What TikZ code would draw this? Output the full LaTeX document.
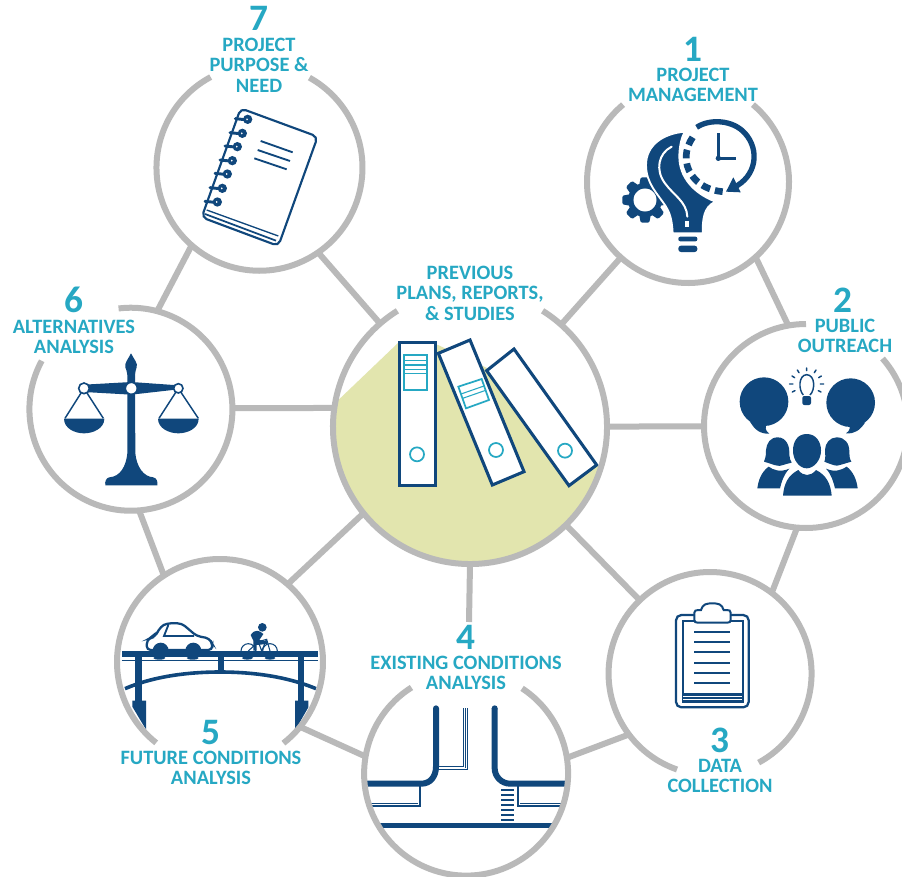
\documentclass[tikz,border=0pt]{standalone}
\usepackage{fontspec}
\setmainfont{Carlito}
\definecolor{navy}{HTML}{10477C}
\definecolor{teal1}{HTML}{26A8C3}
\definecolor{ringgray}{HTML}{B9B9B9}
\definecolor{olive}{HTML}{E2E5AE}
\tikzset{
  ringnode/.style={circle,inner sep=0pt,outer sep=0pt,minimum size={#1*1.5pt}},
  ringline/.style={draw=ringgray,line width=4.5pt},
  zoomat/.style={shift={#1},x=0.25pt,y=-0.25pt},
  digit/.style={text=teal1,font=\bfseries\fontsize{28}{28}\selectfont,inner sep=0pt},
  lab/.style={text=teal1,font=\bfseries\fontsize{15.3}{15.4}\selectfont,align=center,inner sep=0pt},
  binder/.style={draw=navy,fill=white,line width=2.3pt,line join=miter},
  tealthin/.style={draw=teal1,line width=1.3pt},
}
\newcommand{\ringarc}[4]{\draw[ringline] (#1.#3) arc[start angle=#3,end angle=#4,radius={#2*0.75pt}];}
\begin{document}
\begin{tikzpicture}[x=0.75pt,y=-0.75pt]
\useasboundingbox (0,0) rectangle (902,877);
\clip (0,0) rectangle (902,877);
\fill[white] (0,0) rectangle (902,877);
% ring anchors
\node[ringnode=137] (cc) at (470,427) {};
\node[ringnode=101] (c1) at (688,182) {};
\node[ringnode=102] (c2) at (806,426) {};
\node[ringnode=101.5] (c3) at (711,673) {};
\node[ringnode=102] (c4) at (465.5,774) {};
\node[ringnode=103] (c5) at (220,662) {};
\node[ringnode=101.5] (c6) at (130.5,410) {};
\node[ringnode=103] (c7) at (259,168) {};
\coordinate (free4) at (469,622);
% olive shade
\begin{scope}
\clip (470,427) circle[radius=135];
\fill[olive] (330,408) -- (398,343) -- (438,345) -- (487,368) -- (600,468) -- (620,600) -- (320,600) -- cycle;
\end{scope}
% connectors
\draw[ringline] (cc) -- (c1);
\draw[ringline] (cc) -- (c2);
\draw[ringline] (cc) -- (c3);
\draw[ringline] (cc.-90) -- (free4);
\draw[ringline] (cc.219.2) -- (c5.49);
\draw[ringline] (cc.172) -- (c6.1);
\draw[ringline] (cc.131.2) -- (c7.-55.4);
\draw[ringline] (c1.-48.5) -- (c2.100);
\draw[ringline] (c2.-95) -- (c3.53.7);
\draw[ringline] (c3.217.4) -- (c4.9.4);
\draw[ringline] (c4.170.6) -- (c5.-39);
\draw[ringline] (c5.123) -- (c6.-85);
\draw[ringline] (c6.75) -- (c7.229);
% binders
\begin{scope}[zoomat={(330,250)}]
\draw[binder] (470,362) -- (552,297) -- (800,645) -- (717,707) -- cycle;
\draw[binder] (325,310) -- (420,270) -- (582,665) -- (487,705) -- cycle;
\draw[binder] (208,278) rectangle (316,707);
\draw[tealthin] (222,315) rectangle (292,420);
\draw[tealthin,line width=.8pt] (225,332) -- (290,332) (225,345) -- (290,345) (225,358) -- (290,358) (225,371) -- (290,371);
\draw[tealthin] (261,613) circle[radius=21];
\draw[tealthin] (385,410) -- (455,387) -- (477,450) -- (408,475) -- cycle;
\draw[tealthin,line width=.8pt] (393,432) -- (462,408) (398,445) -- (467,421);
\draw[tealthin] (498,600) circle[radius=21];
\draw[tealthin] (705,602) circle[radius=21];
\end{scope}
% icon 1: bulb, gear, clock
\begin{scope}[zoomat={(570,20)}]
\foreach \a in {0,45,...,315}{
  \fill[navy,rotate around={\a:(225,540)},rounded corners=1pt] (212,472) -- (238,472) -- (244,505) -- (206,505) -- cycle;
}
\draw[navy,line width=4pt] (225,540) circle[radius=43];
\fill[navy,draw=white,line width=1.4pt] (345,335) .. controls (280,340) and (228,375) .. (228,435)
  .. controls (228,490) and (262,520) .. (288,560) .. controls (300,580) and (306,600) .. (308,640)
  -- (398,640) .. controls (398,600) and (400,560) .. (437,545)
  .. controls (370,520) and (328,470) .. (328,410) .. controls (328,380) and (335,350) .. (345,335) -- cycle;
\draw[white,line width=1.5pt,line cap=round] (305,380) .. controls (265,400) and (255,450) .. (285,490) .. controls (310,525) and (350,545) .. (352,590);
\fill[white] (346,602) rectangle (358,622);
\fill[navy,rounded corners=1.5pt] (325,650) rectangle (382,664);
\fill[navy,rounded corners=2pt] (325,677) rectangle (382,696);
\draw[navy,line width=4pt] (380,322) .. controls (420,295) and (490,300) .. (525,340)
  .. controls (570,390) and (560,470) .. (490,503);
\fill[navy] (512,517) -- (468,515) -- (490,472) -- cycle;
\draw[navy,line width=5pt,dash pattern=on 6.5pt off 3.8pt] (368,352) .. controls (345,385) and (340,430) .. (365,465) .. controls (385,495) and (420,512) .. (458,515);
\draw[navy,line width=1.8pt] (445,340) -- (445,415) -- (498,415);
\fill[navy] (445,415) circle[radius=8];
\end{scope}
% icon 2: speech and people
\begin{scope}[zoomat={(690,280)}]
\fill[navy] (222,365) circle[radius=73];
\fill[navy] (180,425) .. controls (195,450) and (210,462) .. (238,461) .. controls (225,452) and (224,440) .. (232,430) -- cycle;
\fill[navy] (482,368) circle[radius=73];
\fill[navy] (525,428) .. controls (510,450) and (495,462) .. (468,460) .. controls (480,452) and (482,442) .. (476,432) -- cycle;
\draw[navy,line width=1.1pt] (340,345) .. controls (325,330) and (325,285) .. (350,284) .. controls (376,285) and (376,330) .. (360,345);
\fill[navy,rounded corners=1.5pt] (337,348) rectangle (363,375);
\draw[navy,line width=1.1pt,line cap=round] (350,264) -- (350,272) (322,270) -- (327,278) (378,270) -- (373,278) (306,288) -- (314,293) (394,288) -- (386,293) (299,312) -- (309,312) (401,312) -- (391,312) (307,336) -- (315,332) (393,336) -- (385,332);
\fill[navy] (263,472) .. controls (290,472) and (300,500) .. (298,525) .. controls (298,535) and (302,542) .. (305,548)
  .. controls (285,552) and (270,560) .. (262,557) .. controls (250,555) and (240,550) .. (222,545)
  .. controls (228,530) and (228,520) .. (228,510) .. controls (230,490) and (240,472) .. (263,472) -- cycle;
\fill[navy] (440,472) .. controls (465,472) and (478,490) .. (478,515) .. controls (478,525) and (478,535) .. (484,545)
  .. controls (465,550) and (450,556) .. (440,557) .. controls (430,556) and (415,550) .. (403,545)
  .. controls (408,535) and (405,520) .. (405,510) .. controls (405,490) and (420,472) .. (440,472) -- cycle;
\fill[navy] (202,625) .. controls (205,600) and (215,575) .. (236,560) .. controls (250,570) and (270,578) .. (298,566) .. controls (280,585) and (275,605) .. (270,625) -- cycle;
\fill[navy] (503,625) .. controls (500,600) and (490,575) .. (470,560) .. controls (455,570) and (435,578) .. (408,566) .. controls (425,585) and (430,605) .. (435,625) -- cycle;
\fill[white] (350,452) .. controls (385,452) and (403,485) .. (403,512) .. controls (403,540) and (380,575) .. (350,575) .. controls (320,575) and (299,540) .. (299,512) .. controls (299,485) and (315,452) .. (350,452) -- cycle;
\fill[navy] (350,462) .. controls (378,462) and (393,485) .. (393,512) .. controls (393,540) and (372,565) .. (350,565) .. controls (328,565) and (309,540) .. (309,512) .. controls (309,485) and (322,462) .. (350,462) -- cycle;
\fill[navy] (279,647) .. controls (282,610) and (295,585) .. (325,570) .. controls (340,590) and (362,590) .. (378,570) .. controls (408,585) and (422,610) .. (425,647) -- cycle;
\end{scope}
% icon 3: clipboard
\begin{scope}[zoomat={(600,570)}]
\draw[navy,line width=1.7pt,rounded corners=4pt,fill=white] (228,135) rectangle (446,412);
\draw[navy,line width=1.7pt] (248,152) rectangle (428,395);
\fill[navy] (248,370) rectangle (428,395);
\draw[white,line width=.7pt] (250,378) -- (426,378);
\draw[white,line width=.5pt] (250,388) -- (426,388);
\draw[navy,line width=1.5pt,fill=white] (283,150) -- (283,128) .. controls (283,122) and (288,120) .. (295,120) -- (303,120) .. controls (308,102) and (320,100) .. (337,100) .. controls (354,100) and (366,102) .. (371,120) -- (380,120) .. controls (388,120) and (392,122) .. (392,128) -- (392,150) .. controls (392,156) and (388,158) .. (382,158) -- (293,158) .. controls (287,158) and (283,156) .. (283,150) -- cycle;
\foreach \yy in {186,216,247,278,308,338}{\draw[navy,line width=1.3pt] (283,\yy) -- (390,\yy);}
\end{scope}
% icon 4: intersection
\begin{scope}[zoomat={(350,620)}]
\fill[navy] (258,265) circle[radius=9] (434,265) circle[radius=9];
\draw[navy,line width=4.5pt] (258,265) -- (258,440) .. controls (258,470) and (240,491) .. (215,491) -- (40,491);
\draw[navy,line width=4.5pt] (434,265) -- (434,445) .. controls (434,470) and (455,491) .. (480,491) -- (650,491);
\draw[navy,line width=3.8pt] (85,617) -- (612,617);
\draw[navy,line width=1pt] (340,265) -- (340,440) -- (265,440);
\draw[navy,line width=.7pt] (351,265) -- (351,449) -- (265,449);
\draw[navy,line width=.5pt] (345.5,265) -- (345.5,445);
\draw[navy,line width=1.6pt] (210,497) -- (210,558) -- (62,558);
\draw[navy,line width=.7pt] (62,549) -- (204,549);
\draw[navy,line width=1.6pt] (503,497) -- (503,558) -- (638,558);
\draw[navy,line width=.7pt] (510,549) -- (638,549);
\foreach \yy in {510,525,540,555,570,585,600}{\fill[navy] (452,\yy-4) rectangle (492,\yy+4);}
\end{scope}
% icon 5: bridge
\begin{scope}[zoomat={(100,570)}]
\draw[navy,line width=1.7pt,fill=white,rounded corners=3pt] (140,240) -- (140,212) -- (150,204) -- (165,200) -- (182,170) -- (200,160) -- (245,160) -- (290,198) -- (328,205) -- (337,222) -- (337,240) -- cycle;
\fill[navy] (182,242) circle[radius=24];
\fill[navy] (280,242) circle[radius=24];
\draw[navy,line width=1.4pt] (205,165) -- (192,198) -- (282,198);
\fill[white] (156,220) rectangle (158,221);
\fill[navy] (487,172) circle[radius=13];
\fill[navy] (452,195) .. controls (465,175) and (480,182) .. (490,192) -- (478,210) -- (503,215) -- (500,222) -- (470,225) -- (470,242) -- (460,242) -- (460,212) -- cycle;
\draw[navy,line width=.8pt] (445,243) circle[radius=22] (510,243) circle[radius=22];
\draw[navy,line width=.8pt] (445,243) -- (475,215) -- (500,208) -- (510,243) (475,215) -- (485,243) -- (500,208);
\fill[navy] (65,244) rectangle (655,262);
\draw[navy,line width=.8pt] (65,271) -- (655,271);
\fill[navy] (178,264) ellipse[x radius=18,y radius=5];
\fill[navy] (278,264) ellipse[x radius=18,y radius=5];
\fill[navy] (442,264) ellipse[x radius=16,y radius=5];
\fill[navy] (510,264) ellipse[x radius=16,y radius=5];
\fill[navy] (105,262) rectangle (125,395);
\fill[navy] (595,262) rectangle (613,395);
\fill[navy] (353,262) rectangle (372,305);
\draw[navy,line width=2.7pt] (75,356) .. controls (170,315) and (280,306) .. (360,306) .. controls (440,306) and (550,315) .. (648,356);
\fill[navy] (97,392) -- (138,392) -- (138,478) -- (128,462) -- (97,410) -- cycle;
\fill[navy] (585,392) -- (625,392) -- (625,412) -- (587,478) -- (585,478) -- cycle;
\end{scope}
% icon 6: scales
\begin{scope}[zoomat={(10,280)}]
\fill[navy] (363,220) .. controls (370,235) and (385,250) .. (380,262) .. controls (378,270) and (375,275) .. (375,285) -- (376,520) .. controls (380,560) and (400,590) .. (430,592)
  .. controls (440,594) and (444,605) .. (442,616) -- (286,616) .. controls (284,605) and (288,594) .. (298,592) .. controls (330,590) and (348,560) .. (352,520) -- (352,285) .. controls (352,275) and (348,270) .. (346,262) .. controls (342,250) and (356,235) .. (363,220) -- cycle;
\fill[navy] (222,314) -- (364,306) -- (505,316) -- (505,328) -- (364,344) -- (222,336) -- cycle;
\draw[navy,line width=1.1pt] (165,415) -- (222,325) -- (280,415);
\draw[navy,line width=1.1pt] (447,415) -- (505,325) -- (565,415);
\fill[navy] (162,416) -- (283,416) .. controls (283,445) and (250,460) .. (222,460) .. controls (194,460) and (162,445) .. (162,416) -- cycle;
\fill[navy] (444,416) -- (566,416) .. controls (566,445) and (533,460) .. (505,460) .. controls (477,460) and (444,445) .. (444,416) -- cycle;
\draw[navy,line width=1.2pt,fill=white] (222,325) circle[radius=16];
\draw[navy,line width=1.2pt,fill=white] (505,325) circle[radius=14];
\draw[navy,line width=1.2pt,fill=white] (364,325) circle[radius=18];
\end{scope}
% icon 7: notebook
\begin{scope}[zoomat={(150,0)}]
\draw[navy,line width=1.6pt,rounded corners=4pt,fill=white] (272,325) -- (503,410) -- (385,738) -- (155,652) -- cycle;
\draw[navy,line width=1.3pt] (165,642) -- (378,722);
\draw[navy,line width=1pt] (170,630) -- (385,708);
\draw[navy,line width=1.4pt] (332,423) -- (428,457) (323,450) -- (420,483) (313,475) -- (410,508);
\foreach \dx/\dy in {293/358,277/400,262/440,247/482,232/522,217/565,202/606}{
  \fill[navy] (\dx,\dy) circle[radius=14];
  \fill[white] (\dx-2,\dy) circle[radius=3];
  \draw[navy,line width=2.2pt,line cap=round] (\dx-37,\dy-2) -- (\dx-8,\dy+1);
}
\end{scope}
% ring arcs
\ringarc{cc}{137}{122}{418}
\ringarc{c1}{101}{130}{410}
\ringarc{c2}{102}{90}{401.4}
\ringarc{c3}{101.5}{298.6}{611}
\ringarc{c4}{102}{122.4}{416.7}
\ringarc{c5}{103}{308}{591.7}
\ringarc{c6}{101.5}{151.5}{457}
\ringarc{c7}{103}{118.3}{421}
% labels
\node[digit] (d1) at (693,49) {1};
\node[lab] (l1) at (693,85) {PROJECT\\MANAGEMENT};
\node[digit] (d2) at (843,300) {2};
\node[lab] (l2) at (845,336) {PUBLIC\\OUTREACH};
\node[digit] (d3) at (720,740) {3};
\node[lab] (l3) at (720,776) {DATA\\COLLECTION};
\node[digit] (d4) at (466,637) {4};
\node[lab] (l4) at (466,673) {EXISTING CONDITIONS\\ANALYSIS};
\node[digit] (d5) at (211,733) {5};
\node[lab] (l5) at (211,768) {FUTURE CONDITIONS\\ANALYSIS};
\node[digit] (d6) at (74,300) {6};
\node[lab] (l6) at (74,337) {ALTERNATIVES\\ANALYSIS};
\node[digit] (d7) at (259,18) {7};
\node[lab] (l7) at (259,65) {PROJECT\\PURPOSE \&\\NEED};
\node[lab] (l0) at (470,293) {PREVIOUS\\PLANS, REPORTS,\\\& STUDIES};
\end{tikzpicture}
\end{document}
